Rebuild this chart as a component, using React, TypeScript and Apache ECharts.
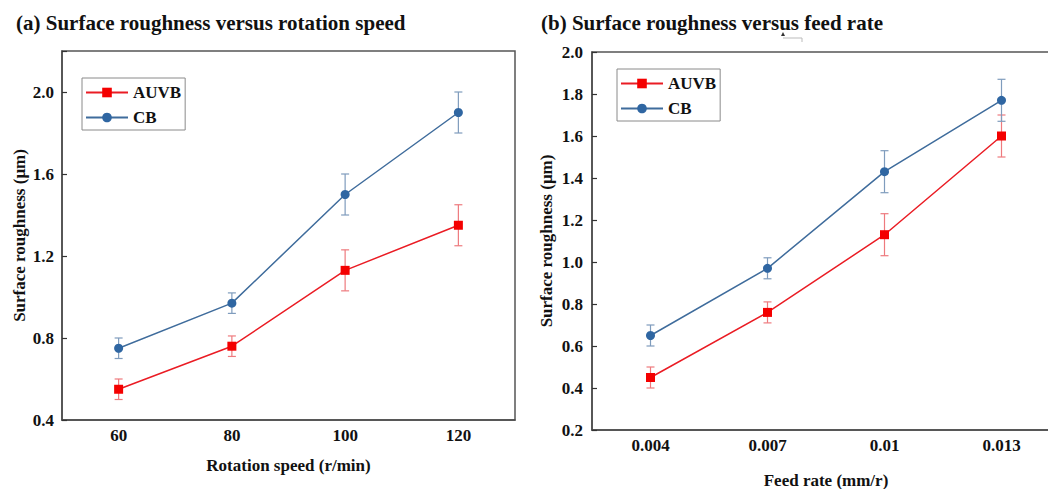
import React, { useEffect, useRef } from 'react';
import * as echarts from 'echarts';

const speedCats = ['60', '80', '100', '120'];
const feedCats = ['0.004', '0.007', '0.01', '0.013'];
const auvbSpeed = [0.55, 0.76, 1.13, 1.35];
const auvbSpeedErr = [0.05, 0.05, 0.1, 0.1];
const cbSpeed = [0.75, 0.97, 1.5, 1.9];
const cbSpeedErr = [0.05, 0.05, 0.1, 0.1];
const auvbFeed = [0.45, 0.76, 1.13, 1.6];
const auvbFeedErr = [0.05, 0.05, 0.1, 0.1];
const cbFeed = [0.65, 0.97, 1.43, 1.77];
const cbFeedErr = [0.05, 0.05, 0.1, 0.1];

const FONT = "'Times New Roman', 'Liberation Serif', serif";
const RED_LINE = '#ea1c24';
const RED_MARK = '#f40000';
const BLUE_LINE = '#3f6c9c';
const BLUE_MARK = '#2f66a2';
const RED_ERR = '#ee7a7e';
const BLUE_ERR = '#7f9cbd';

const errData = (vals: number[], errs: number[]) =>
  vals.map((v, i) => [i, v - errs[i], v + errs[i]]);

const errRender = (color: string) => (params: any, api: any) => {
  const x = api.value(0);
  const lo = api.coord([x, api.value(1)]);
  const hi = api.coord([x, api.value(2)]);
  const w = 4;
  const style = { stroke: color, lineWidth: 1.2 };
  return {
    type: 'group',
    children: [
      { type: 'line', shape: { x1: lo[0], y1: lo[1], x2: hi[0], y2: hi[1] }, style },
      { type: 'line', shape: { x1: lo[0] - w, y1: lo[1], x2: lo[0] + w, y2: lo[1] }, style },
      { type: 'line', shape: { x1: hi[0] - w, y1: hi[1], x2: hi[0] + w, y2: hi[1] }, style },
    ],
  };
};

const axisLineStyle = { color: '#4a4a4a', width: 1.5 };
const labelStyle = { color: '#111', fontFamily: FONT, fontWeight: 'bold' as const, fontSize: 17 };

const xAxisCfg = (cats: string[], name: string, gridIndex: number, nameGap: number) => ({
  type: 'category',
  gridIndex,
  data: cats,
  boundaryGap: true,
  name,
  nameLocation: 'middle',
  nameGap,
  nameTextStyle: { ...labelStyle },
  axisLine: { lineStyle: axisLineStyle },
  axisTick: { inside: true, alignWithLabel: true, length: 5, lineStyle: { color: '#333', width: 1.2 } },
  axisLabel: { ...labelStyle, margin: 7 },
  splitLine: { show: false },
});

const lineSeries = (name: string, data: number[], idx: number, isRed: boolean) => ({
  name,
  type: 'line',
  xAxisIndex: idx,
  yAxisIndex: idx,
  data,
  symbol: isRed ? 'rect' : 'circle',
  symbolSize: 9,
  z: 3,
  lineStyle: { color: isRed ? RED_LINE : BLUE_LINE, width: 1.5 },
  itemStyle: { color: isRed ? RED_MARK : BLUE_MARK },
});

const errSeries = (name: string, vals: number[], errs: number[], idx: number, color: string) => ({
  name,
  type: 'custom',
  xAxisIndex: idx,
  yAxisIndex: idx,
  data: errData(vals, errs),
  encode: { x: 0, y: [1, 2] },
  renderItem: errRender(color),
  z: 2,
});

const legendCfg = (left: number, top: number) => ({
  left,
  top,
  orient: 'vertical',
  data: ['AUVB', 'CB'],
  borderColor: '#8a8a8a',
  borderWidth: 1,
  padding: [6, 4, 4, 3],
  itemWidth: 42,
  itemHeight: 12,
  itemGap: 8,
  textStyle: { ...labelStyle, color: '#111' },
});

export default function App() {
  const ref = useRef<HTMLDivElement>(null);
  useEffect(() => {
    if (!ref.current) return;
    const chart = echarts.init(ref.current, null, { renderer: 'svg' });
    chart.setOption({
      animation: false,
      backgroundColor: '#ffffff',
      title: [
        {
          text: '(a) Surface roughness versus rotation speed',
          left: 11,
          top: 7,
          textStyle: { fontFamily: FONT, fontWeight: 'bold', fontSize: 21, color: '#111' },
        },
        {
          text: '(b) Surface roughness versus feed rate',
          left: 536,
          top: 7,
          textStyle: { fontFamily: FONT, fontWeight: 'bold', fontSize: 21, color: '#111' },
        },
      ],
      legend: [legendCfg(82, 78), legendCfg(617, 69)],
      grid: [
        {
          left: 62, width: 453, top: 51, height: 369,
          outerBoundsMode: 'none', containLabel: false,
          show: true, borderColor: '#555', borderWidth: 1.5,
        },
        {
          left: 592, width: 468, top: 52, height: 378,
          outerBoundsMode: 'none', containLabel: false,
          show: true, borderColor: '#555', borderWidth: 1.5,
        },
      ],
      xAxis: [
        xAxisCfg(speedCats, 'Rotation speed (r/min)', 0, 37),
        xAxisCfg(feedCats, 'Feed rate (mm/r)', 1, 42),
      ],
      yAxis: [
        {
          type: 'value',
          gridIndex: 0,
          min: 0.4,
          max: 2.2,
          interval: 0.4,
          name: 'Surface roughness (μm)',
          nameLocation: 'middle',
          nameGap: 34,
          nameTextStyle: { ...labelStyle },
          axisLine: { show: true, lineStyle: axisLineStyle },
          axisTick: { show: true, inside: true, length: 5, lineStyle: { color: '#333', width: 1.2 } },
          axisLabel: {
            ...labelStyle,
            margin: 8,
            formatter: (v: number) => (v > 2.05 ? '' : v.toFixed(1)),
          },
          splitLine: { show: false },
        },
        {
          type: 'value',
          gridIndex: 1,
          min: 0.2,
          max: 2.0,
          interval: 0.2,
          name: 'Surface roughness (μm)',
          nameLocation: 'middle',
          nameGap: 37,
          nameTextStyle: { ...labelStyle },
          axisLine: { show: true, lineStyle: axisLineStyle },
          axisTick: { show: true, inside: true, length: 5, lineStyle: { color: '#333', width: 1.2 } },
          axisLabel: { ...labelStyle, margin: 9, formatter: (v: number) => v.toFixed(1) },
          splitLine: { show: false },
        },
      ],
      series: [
        errSeries('AUVB err a', auvbSpeed, auvbSpeedErr, 0, RED_ERR),
        errSeries('CB err a', cbSpeed, cbSpeedErr, 0, BLUE_ERR),
        lineSeries('AUVB', auvbSpeed, 0, true),
        lineSeries('CB', cbSpeed, 0, false),
        errSeries('AUVB err b', auvbFeed, auvbFeedErr, 1, RED_ERR),
        errSeries('CB err b', cbFeed, cbFeedErr, 1, BLUE_ERR),
        lineSeries('AUVB', auvbFeed, 1, true),
        lineSeries('CB', cbFeed, 1, false),
      ],
      graphic: [
        {
          type: 'polygon',
          shape: { points: [[781, 36], [783, 32], [785, 36]] },
          style: { fill: '#333' },
        },
        {
          type: 'polyline',
          shape: { points: [[783, 38], [802, 38], [802, 42]] },
          style: { stroke: '#bbb', lineWidth: 1, fill: 'none' },
        },
      ],
    });
    return () => chart.dispose();
  }, []);
  return (
    <div
      ref={ref}
      style={{ position: 'fixed', left: 0, top: 0, width: 1048, height: 489, background: '#fff' }}
    />
  );
}
